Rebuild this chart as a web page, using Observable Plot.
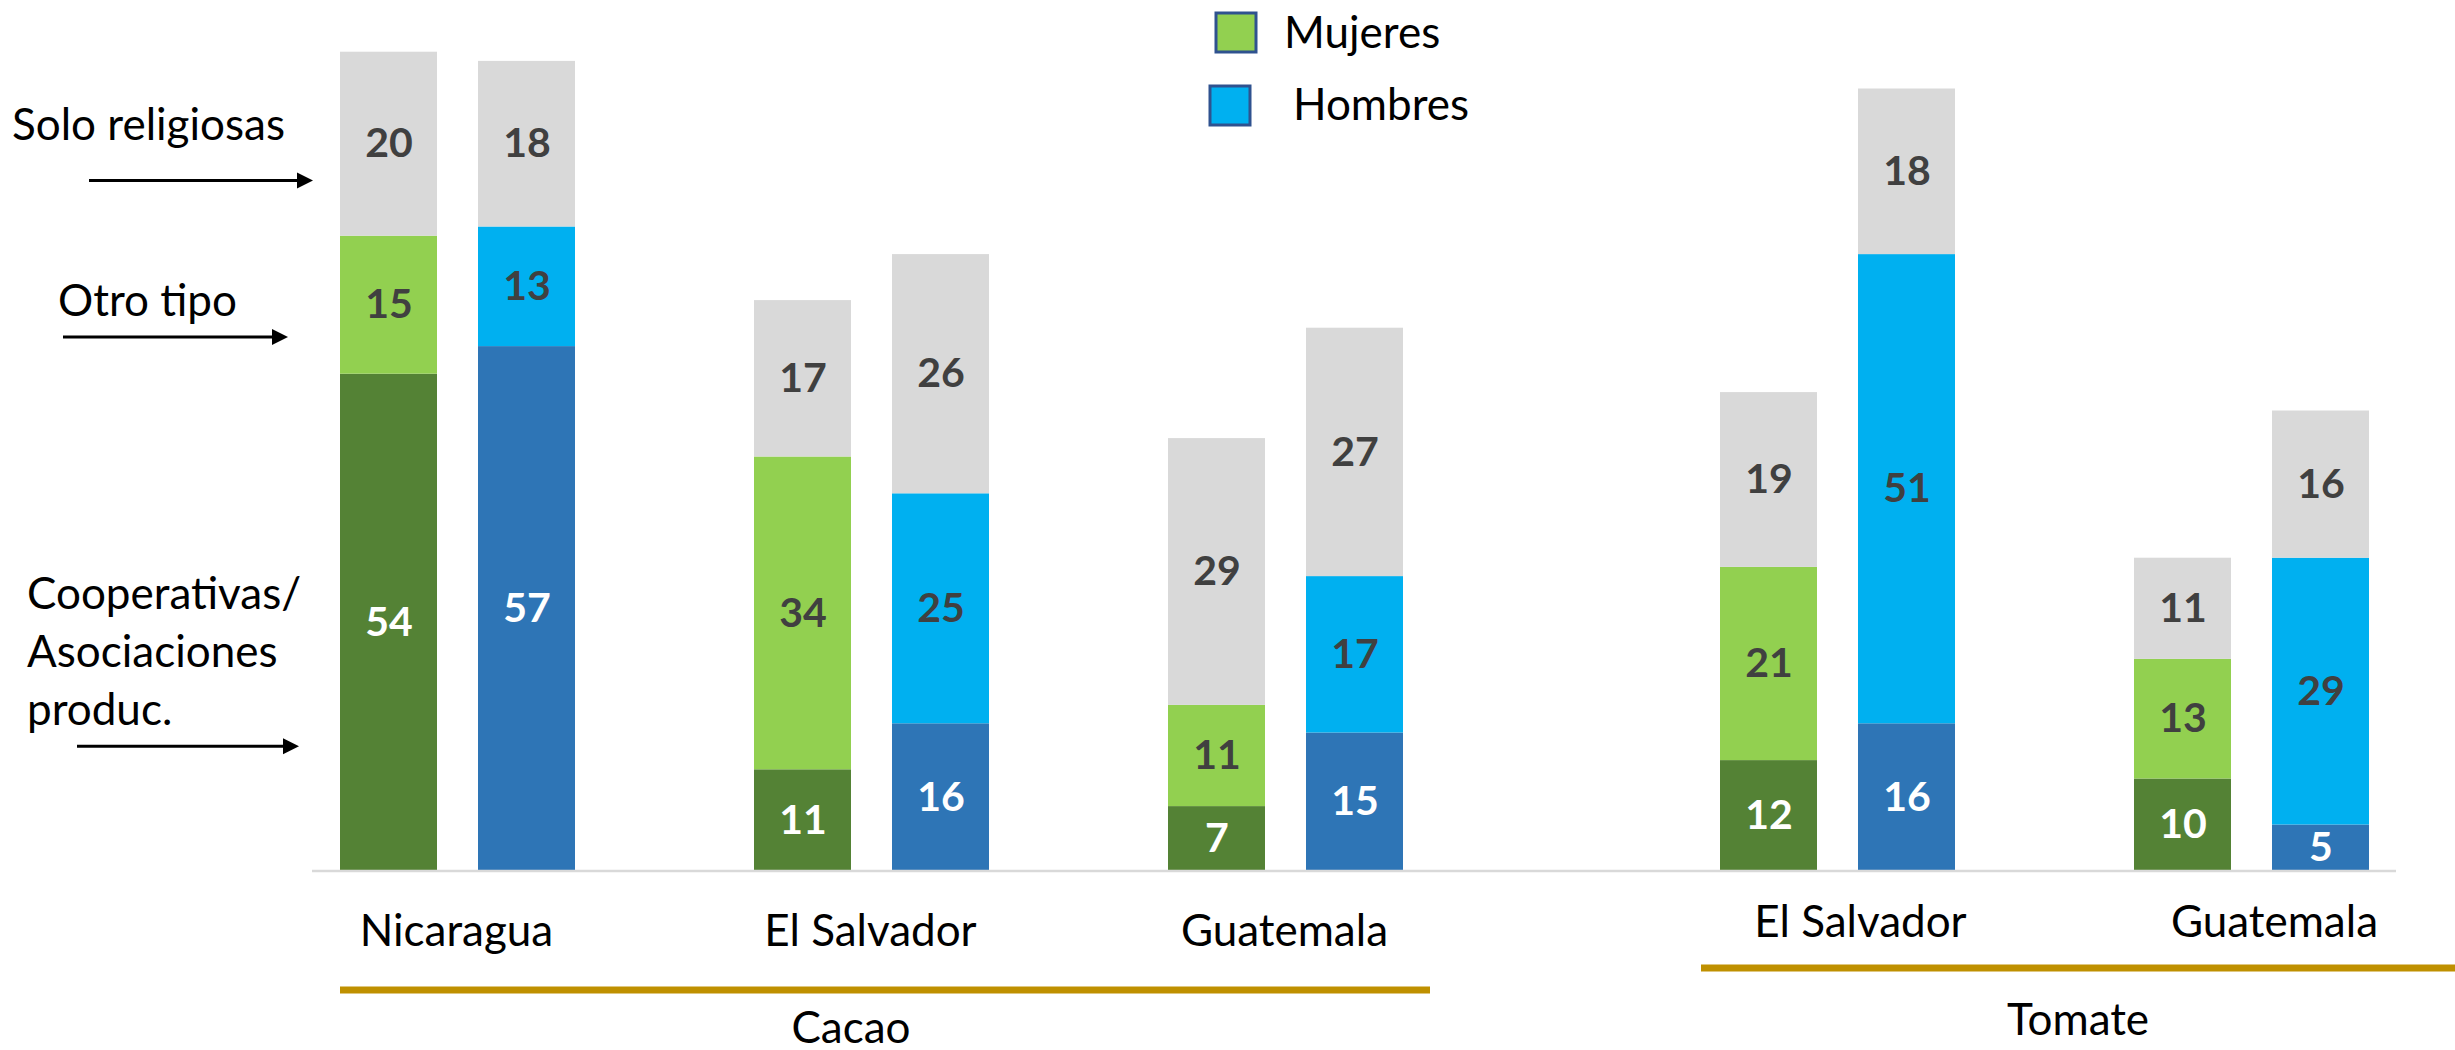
<!DOCTYPE html>
<html>
<head>
<meta charset="utf-8">
<script src="https://cdn.jsdelivr.net/npm/d3@7"></script>
<script src="https://cdn.jsdelivr.net/npm/@observablehq/plot@0.6"></script>
<style>
  html, body { margin: 0; padding: 0; background: #ffffff; }
  #chart svg { display: block; }
</style>
</head>
<body>
<div id="chart"></div>
<script>
// ---------------- DATA ----------------
const crops = ["Cacao", "Cacao", "Cacao", "Tomate", "Tomate"];
const countries = ["Nicaragua", "El Salvador", "Guatemala", "El Salvador", "Guatemala"];
const sexes = ["Mujeres", "Hombres"];
const types = ["Cooperativas/Asociaciones produc.", "Otro tipo", "Solo religiosas"];

const mujeresCoop  = [54, 11, 7, 12, 10];
const mujeresOtro  = [15, 34, 11, 21, 13];
const mujeresRelig = [20, 17, 29, 19, 11];
const hombresCoop  = [57, 16, 15, 16, 5];
const hombresOtro  = [13, 25, 17, 51, 29];
const hombresRelig = [18, 26, 27, 18, 16];

const legendLabels = ["Mujeres", "Hombres"];
const annotationLines = [["Solo religiosas"], ["Otro tipo"], ["Cooperativas/", "Asociaciones", "produc."]];
const annotationArrowY = [75, 58, 13.5]; // value (y units) each arrow points at

// ---------------- BUILD TABLE ----------------
const values = {
  Mujeres: [mujeresCoop, mujeresOtro, mujeresRelig],
  Hombres: [hombresCoop, hombresOtro, hombresRelig]
};
const rows = [];
const xDomain = [];
const groups = [];
crops.forEach((crop, i) => {
  sexes.forEach(sex => {
    const key = `${crop}|${countries[i]}|${sex}`;
    xDomain.push(key);
    types.forEach((type, t) => rows.push({
      key, crop, country: countries[i], sex, type, t,
      value: values[sex][t][i],
      fillKey: t === 2 ? "gris" : `${sex}|${t}`
    }));
  });
  groups.push({crop, country: countries[i], keyM: `${crop}|${countries[i]}|Mujeres`, keyH: `${crop}|${countries[i]}|Hombres`});
  if (i < crops.length - 1) {
    xDomain.push(`gap${i}a`);
    if (crops[i + 1] !== crop) xDomain.push(`gap${i}b`);
  }
});

const FONT = "Lato, 'Open Sans', sans-serif";
const W = 2455, H = 1050;
const xRange = [291.7, 2417];
const pad = 0.3;
const step = (xRange[1] - xRange[0]) / (xDomain.length + pad);

const chart = Plot.plot({
  width: W,
  height: H,
  marginTop: 42.5,
  marginBottom: 179.5,
  marginLeft: 312,
  marginRight: 59,
  style: {fontFamily: FONT, background: "#ffffff", overflow: "visible"},
  x: {domain: xDomain, range: xRange, padding: pad, axis: null},
  y: {domain: [0, 90], axis: null},
  color: {
    domain: ["Mujeres|0", "Mujeres|1", "Hombres|0", "Hombres|1", "gris"],
    range: ["#548235", "#92d050", "#2e75b6", "#00b0f0", "#d9d9d9"]
  },
  marks: [
    Plot.barY(rows, {x: "key", y: "value", z: "type", fill: "fillKey"}),
    Plot.ruleY([0], {stroke: "#d9d9d9", strokeWidth: 2.5}),
    Plot.text(rows, Plot.stackY({
      x: "key", y: "value", z: "type",
      text: d => String(d.value),
      fill: d => d.t === 0 ? "#ffffff" : "#404040",
      fontSize: 41, fontWeight: "bold"
    })),
    Plot.text(groups.filter(g => g.crop === "Cacao"), {
      x: "keyM", frameAnchor: "bottom", dx: step / 2 - 2, dy: 61,
      text: "country", fontSize: 44, fill: "#000000", lineAnchor: "middle"
    }),
    Plot.text(groups.filter(g => g.crop === "Tomate"), {
      x: "keyM", frameAnchor: "bottom", dx: step / 2 + 22, dy: 52,
      text: "country", fontSize: 44, fill: "#000000", lineAnchor: "middle"
    })
  ]
});

document.getElementById("chart").appendChild(chart);

// ---------------- DECORATIONS (crop brackets, legend, annotations) ----------------
const sx = chart.scale("x");
const sy = chart.scale("y");
const bw = sx.bandwidth;
const svg = d3.select(chart);
const deco = svg.append("g").attr("font-family", FONT).attr("text-anchor", "start");

// crop underline + label
const cropNames = Array.from(new Set(crops));
const cropLineY = {Cacao: 990, Tomate: 968};
const cropLabelY = {Cacao: 1028, Tomate: 1020};
cropNames.forEach(crop => {
  const keys = xDomain.filter(k => k.startsWith(crop + "|"));
  const x1 = crop === "Cacao" ? sx.apply(keys[0]) : sx.apply(keys[0]) - 19;
  const x2 = crop === "Cacao" ? sx.apply(keys[keys.length - 1]) + bw + 27 : W;
  deco.append("line")
    .attr("x1", x1).attr("x2", x2)
    .attr("y1", cropLineY[crop]).attr("y2", cropLineY[crop])
    .attr("stroke", "#bf9000").attr("stroke-width", 7);
  const cx = crop === "Cacao" ? (x1 + x2) / 2 - 34 : (x1 + x2) / 2;
  deco.append("text")
    .attr("x", cx).attr("y", cropLabelY[crop]).attr("dy", "0.35em")
    .attr("text-anchor", "middle").attr("font-size", 44).attr("fill", "#000")
    .text(crop);
});

// legend
const legendFill = ["#92d050", "#00b0f0"];
const legendBox = [[1216, 13], [1210, 86]];
const legendText = [[1284, 33], [1293, 105]];
legendLabels.forEach((lab, i) => {
  deco.append("rect")
    .attr("x", legendBox[i][0]).attr("y", legendBox[i][1])
    .attr("width", 40).attr("height", 39)
    .attr("fill", legendFill[i]).attr("stroke", "#2f528f").attr("stroke-width", 3);
  deco.append("text")
    .attr("x", legendText[i][0]).attr("y", legendText[i][1]).attr("dy", "0.35em")
    .attr("text-anchor", "start")
    .attr("font-size", 44).attr("fill", "#000").text(lab);
});

// annotations with arrows on the left
const arrowX = [[89, 313], [63, 288], [77, 299]];
const textX = [12, 58, 27];
const textOffset = [-56, -36, -37];
const lineH = 58;
annotationLines.forEach((lines, i) => {
  const ay = sy.apply(annotationArrowY[i]);
  const [ax1, ax2] = arrowX[i];
  deco.append("line")
    .attr("x1", ax1).attr("x2", ax2 - 14)
    .attr("y1", ay).attr("y2", ay)
    .attr("stroke", "#000").attr("stroke-width", 3);
  deco.append("path")
    .attr("d", `M${ax2},${ay} L${ax2 - 16},${ay - 8} L${ax2 - 16},${ay + 8} Z`)
    .attr("fill", "#000");
  const lastY = ay + textOffset[i];
  lines.forEach((ln, j) => {
    deco.append("text")
      .attr("x", textX[i])
      .attr("y", lastY - (lines.length - 1 - j) * lineH)
      .attr("dy", "0.35em")
      .attr("text-anchor", "start")
      .attr("font-size", 44).attr("fill", "#000")
      .text(ln);
  });
});
</script>
</body>
</html>
